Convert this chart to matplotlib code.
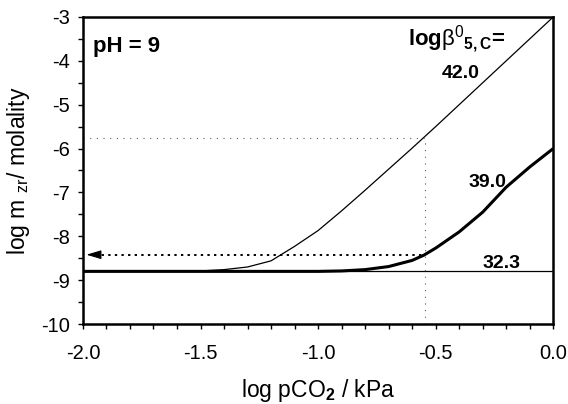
import matplotlib
matplotlib.use('Agg')
import matplotlib.pyplot as plt
from matplotlib.ticker import MultipleLocator

plt.rcParams['font.family'] = ['Liberation Sans', 'DejaVu Sans']
plt.rcParams['mathtext.fontset'] = 'custom'
plt.rcParams['mathtext.rm'] = 'Liberation Sans'
plt.rcParams['mathtext.it'] = 'Liberation Sans:italic'
plt.rcParams['mathtext.bf'] = 'Liberation Sans:bold'

# ── data ──────────────────────────────────────────────────
x_42 = [-2.0, -1.5, -1.4, -1.3, -1.2, -1.1, -1.0, -0.9, -0.8, -0.7,
        -0.6, -0.5, -0.4, -0.3, -0.2, -0.1, 0.0]
y_42 = [-8.8, -8.79, -8.76, -8.70, -8.56, -8.23, -7.87, -7.42, -6.95, -6.47,
        -5.99, -5.5, -5.0, -4.5, -4.0, -3.5, -3.0]

x_39 = [-2.0, -1.0, -0.9, -0.8, -0.7, -0.6, -0.55, -0.5, -0.4, -0.3,
        -0.2, -0.1, 0.0]
y_39 = [-8.8, -8.8, -8.79, -8.76, -8.69, -8.55, -8.43, -8.27, -7.90, -7.45,
        -6.88, -6.42, -6.0]

x_32 = [-2.0, 0.0]
y_32 = [-8.8, -8.8]

x_read = -0.545          # log pCO2 where the curves are read
y_read_42 = -5.76
y_read_39 = -8.42

fig = plt.figure(figsize=(5.68, 4.04), dpi=100)
ax = fig.add_axes([0.146, 0.198, 0.828, 0.760])

ax.plot(x_32, y_32, color='k', lw=0.9)
ax.plot(x_42, y_42, color='k', lw=0.9)
ax.plot(x_39, y_39, color='k', lw=2.2, solid_capstyle='butt')

# guide lines
ax.plot([-2.0, x_read], [y_read_42, y_read_42], color='0.35', lw=0.8,
        linestyle=(0, (1, 5)))
ax.plot([x_read, x_read], [-10, y_read_42], color='0.35', lw=0.8,
        linestyle=(0, (1, 5)))
ax.plot([-1.95, x_read], [y_read_39, y_read_39], color='k', lw=1.4,
        linestyle=(0, (1.2, 2.2)))
ax.annotate('', xy=(-1.985, y_read_39), xytext=(-1.94, y_read_39),
            arrowprops=dict(arrowstyle='-|>,head_length=0.9,head_width=0.27',
                            color='k', lw=0.8, shrinkA=0, shrinkB=0))

ax.set_xlim(-2.0, 0.0)
ax.set_ylim(-10, -3)
ax.xaxis.set_major_locator(MultipleLocator(0.5))
ax.xaxis.set_minor_locator(MultipleLocator(0.1))
ax.yaxis.set_major_locator(MultipleLocator(1))
ax.yaxis.set_minor_locator(MultipleLocator(0.5))
ax.xaxis.set_major_formatter(plt.FuncFormatter(lambda v, p: f'{v:.1f}'))
ax.yaxis.set_major_formatter(plt.FuncFormatter(lambda v, p: f'{v:.0f}'))
ax.tick_params(which='both', direction='out', width=1.0, labelsize=14.5,
               top=False, right=False)
ax.tick_params(which='both', length=3.6)
ax.tick_params(axis='y', pad=6)
ax.tick_params(axis='x', pad=11)
for s in ax.spines.values():
    s.set_linewidth(1.8)

ax.set_xlabel(r'log pCO$_\mathbf{2}$ / kPa', fontsize=16.5, labelpad=10)
ax.set_ylabel(r'log m $_{\mathrm{zr}}$/ molality', fontsize=16.5, labelpad=6)

ax.text(-1.957, -3.80, 'pH = 9', fontsize=16, fontweight='bold',
        va='baseline')
ax.text(-0.617, -3.64,
        r'$\mathbf{log}\mathrm{\beta}^{0}{}_{\mathbf{5,C}}\!\mathbf{=}$',
        fontsize=16, va='baseline')
ax.text(-0.472, -4.39, '42.0', fontsize=14, fontweight='bold', va='baseline')
ax.text(-0.362, -6.87, '39.0', fontsize=14, fontweight='bold', va='baseline')
ax.text(-0.30, -8.72, '32.3', fontsize=14, fontweight='bold', va='baseline')

fig.savefig('out.png', dpi=100)
